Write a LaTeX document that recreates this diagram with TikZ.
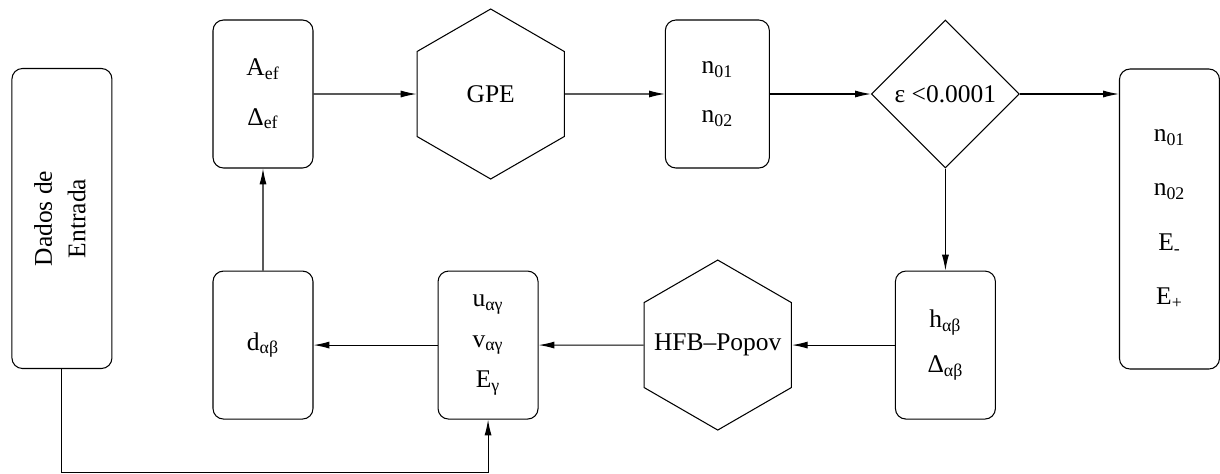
\documentclass[tikz,border=0pt]{standalone}
\usepackage{fontspec}
\setmainfont{Liberation Serif}
\usetikzlibrary{shapes.geometric, arrows.meta, positioning, calc}

\begin{document}
\begin{tikzpicture}[node distance=2cm,
        box/.style={rectangle, draw, line width=0.6pt, rounded corners=6pt, minimum width=2cm, minimum height=2.96cm, align=center, inner sep=2pt, font=\fontsize{14.5}{28}\selectfont},
        tallbox/.style={box, minimum height=6cm},
        hexa/.style={regular polygon, regular polygon sides=6, shape border rotate=30, draw, line width=0.6pt, minimum size=3.4cm, inner sep=0pt, font=\fontsize{14.5}{18}\selectfont},
        check/.style={diamond, draw, line width=0.6pt, minimum width=2.96cm, minimum height=2.96cm, inner sep=0pt, font=\fontsize{14.5}{18}\selectfont},
        line/.style={draw, line width=0.6pt, -{Latex[length=9pt,width=4pt]}}]

        \useasboundingbox (0,0) rectangle (24.4,-9.46);

        % upper row
        \node [box] (aef) at (5.26,-1.88) {A\textsubscript{ef}\\Δ\textsubscript{ef}};
        \node [hexa, right=2.06cm of aef] (gpe) {GPE};
        \node [box, minimum width=2.08cm, right=2cm of gpe] (nzero) {n\textsubscript{01}\\n\textsubscript{02}};
        \node [check, right=2.02cm of nzero] (conv) {ε <0.0001};
        \node [tallbox, right=1.98cm of conv, yshift=-2.5cm] (result) {n\textsubscript{01}\\[3pt]n\textsubscript{02}\\[3pt]E\textsubscript{-}\\[3pt]E\textsubscript{+}};

        % lower row
        \node [box, below=2.04cm of conv] (hab) {h\textsubscript{αβ}\\[-2pt]Δ\textsubscript{αβ}};
        \node [hexa, left=2.06cm of hab] (hfb) {\makebox[0pt]{HFB--Popov}};
        \node [box, left=2.1cm of hfb] (uve) {u\textsubscript{αγ}\\[-5pt]v\textsubscript{αγ}\\[-5pt]E\textsubscript{γ}};
        \node [box, left=2.48cm of uve] (dab) {d\textsubscript{αβ}};

        % input data
        \node [tallbox, left=2cm of aef, yshift=-2.49cm] (dados) {\rotatebox{90}{\fontsize{14.5}{19}\selectfont\begin{tabular}{@{}c@{}}Dados de\\Entrada\end{tabular}}};

        \path [line] (aef) -- (gpe);
        \path [line] (gpe) -- (nzero);
        \path [line] (nzero) -- (conv);
        \path [line] (conv.east) -- (conv.east -| result.west);
        \path [line] (conv) -- (hab);
        \path [line] (hab) -- (hfb);
        \path [line] (hfb) -- (uve);
        \path [line] (uve) -- (dab);
        \path [line] (dab) -- (aef);
        \path [line] (dados.south) -- ++(0,-2.06) -| (uve.south);
\end{tikzpicture}
\end{document}
